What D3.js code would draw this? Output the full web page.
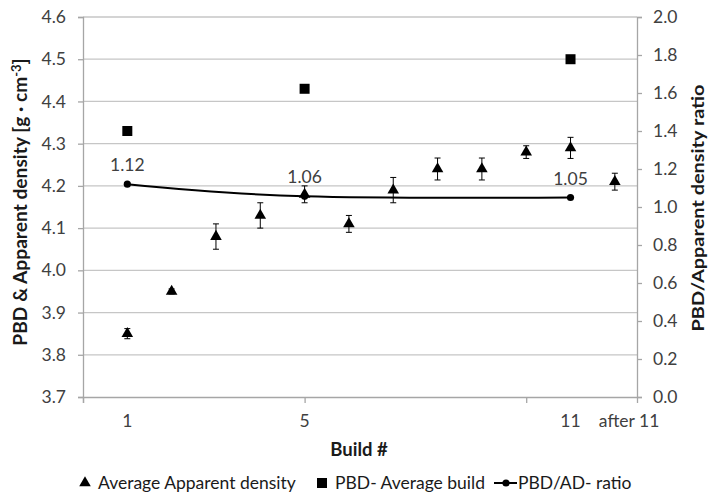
<!DOCTYPE html>
<html>
<head>
<meta charset="utf-8">
<script src="https://cdn.jsdelivr.net/npm/d3@7"></script>
<style>
  html, body { margin: 0; padding: 0; background: #fff; }
  svg { display: block; font-family: Lato, "Liberation Sans", sans-serif; }
</style>
</head>
<body>
<svg id="chart" width="708" height="493"></svg>
<script>
// ---- data ----
const buildX = [1, 2, 3, 4, 5, 6, 7, 8, 9, 10, 11, 12];
const apparentDensity = [3.85, 3.95, 4.08, 4.13, 4.18, 4.11, 4.19, 4.24, 4.24, 4.28, 4.29, 4.21];
const apparentErr = [0.012, 0.006, 0.03, 0.03, 0.02, 0.02, 0.03, 0.026, 0.026, 0.015, 0.025, 0.02];
const pbdX = [1, 5, 11];
const pbdValues = [4.33, 4.43, 4.50];
const ratioX = [1, 5, 11];
const ratioValues = [1.12, 1.056, 1.05];
const xTickLabels = ["1", "5", "11", "after 11"];
const xTickLabelPos = [1, 5, 11, 12];
const leftTicks = [3.7, 3.8, 3.9, 4.0, 4.1, 4.2, 4.3, 4.4, 4.5, 4.6];
const rightTicks = [0, 0.2, 0.4, 0.6, 0.8, 1.0, 1.2, 1.4, 1.6, 1.8, 2.0];
const xMajorTicks = [0, 5, 10];
const legendLabels = ["Average Apparent density", "PBD- Average build", "PBD/AD- ratio"];

// ---- layout ----
const L = 83, R = 637, T = 17, B = 397;
const svg = d3.select("#chart");
const x = d3.scaleLinear().domain([0, 12.5]).range([L, R]);
const yL = d3.scaleLinear().domain([3.7, 4.6]).range([B, T]);
const yR = d3.scaleLinear().domain([0, 2]).range([B, T]);

const gridColor = "#c6c6c6", axisColor = "#a6a6a6", tickText = "#404040";
const fs = 17.5;

// gridlines
svg.append("g").selectAll("line").data(leftTicks.slice(1)).join("line")
  .attr("x1", L).attr("x2", R)
  .attr("y1", d => yL(d)).attr("y2", d => yL(d))
  .attr("stroke", gridColor).attr("stroke-width", 1.3);

// left axis
const gL = svg.append("g").attr("transform", `translate(${L},0)`)
  .call(d3.axisLeft(yL).tickValues(leftTicks).tickFormat(d3.format(".1f")).tickSize(5).tickPadding(12));
gL.select(".domain").attr("stroke", axisColor).attr("stroke-width", 1.3);
gL.selectAll(".tick line").attr("stroke", axisColor).attr("stroke-width", 1.3);
gL.selectAll("text").attr("font-size", fs).attr("fill", tickText).attr("font-family", "Lato");

// right axis
const gR = svg.append("g").attr("transform", `translate(${R},0)`)
  .call(d3.axisRight(yR).tickValues(rightTicks).tickFormat(d3.format(".1f")).tickSize(5).tickPadding(11));
gR.select(".domain").attr("stroke", axisColor).attr("stroke-width", 1.3);
gR.selectAll(".tick line").attr("stroke", axisColor).attr("stroke-width", 1.3);
gR.selectAll("text").attr("font-size", fs).attr("fill", tickText).attr("font-family", "Lato");

// bottom axis (tick marks only)
const gB = svg.append("g").attr("transform", `translate(0,${B})`)
  .call(d3.axisBottom(x).tickValues(xMajorTicks).tickSize(6).tickFormat(""));
gB.select(".domain").attr("stroke", axisColor).attr("stroke-width", 1.3);
gB.selectAll(".tick line").attr("stroke", axisColor).attr("stroke-width", 1.3);

// x labels
svg.append("g").selectAll("text").data(xTickLabels).join("text")
  .attr("x", (d, i) => i === xTickLabels.length - 1 ? x(xTickLabelPos[i]) - 16 : x(xTickLabelPos[i]))
  .attr("y", 427)
  .attr("text-anchor", (d, i) => i === xTickLabels.length - 1 ? "start" : "middle")
  .attr("font-size", fs).attr("fill", tickText)
  .text(d => d);

// axis titles
svg.append("text")
  .attr("transform", "translate(27,202) rotate(-90)")
  .attr("text-anchor", "middle").attr("font-weight", "bold").attr("font-size", 19.2).attr("fill", "#1a1a1a")
  .call(t => {
    t.append("tspan").text("PBD & Apparent density [g · cm");
    t.append("tspan").attr("dy", -6).attr("font-size", 13).text("-3");
    t.append("tspan").attr("dy", 6).text("]");
  });
svg.append("text")
  .attr("transform", "translate(704,208) rotate(-90)")
  .attr("text-anchor", "middle").attr("font-weight", "bold").attr("font-size", 17.5).attr("fill", "#1a1a1a")
  .attr("textLength", 247).attr("lengthAdjust", "spacingAndGlyphs")
  .text("PBD/Apparent density ratio");
svg.append("text")
  .attr("x", 359).attr("y", 456)
  .attr("text-anchor", "middle").attr("font-weight", "bold").attr("font-size", 18.5).attr("fill", "#1a1a1a")
  .text("Build #");

// ratio line
const line = d3.line().x(d => x(d[0])).y(d => yR(d[1])).curve(d3.curveCardinal.tension(0));
const ratioPts = ratioX.map((v, i) => [v, ratioValues[i]]);
svg.append("path").datum(ratioPts).attr("d", line)
  .attr("fill", "none").attr("stroke", "#000").attr("stroke-width", 2);
svg.append("g").selectAll("circle").data(ratioPts).join("circle")
  .attr("cx", d => x(d[0])).attr("cy", d => yR(d[1])).attr("r", 3.6).attr("fill", "#000");
svg.append("g").selectAll("text").data(ratioPts).join("text")
  .attr("x", d => x(d[0])).attr("y", d => yR(d[1]) - 13)
  .attr("text-anchor", "middle").attr("font-size", fs).attr("fill", tickText)
  .text(d => d[1].toFixed(2));

// error bars
const eb = svg.append("g").attr("stroke", "#000").attr("stroke-width", 1);
buildX.forEach((bx, i) => {
  const cx = x(bx), y1 = yL(apparentDensity[i] + apparentErr[i]), y2 = yL(apparentDensity[i] - apparentErr[i]);
  eb.append("line").attr("x1", cx).attr("x2", cx).attr("y1", y1).attr("y2", y2);
  eb.append("line").attr("x1", cx - 3).attr("x2", cx + 3).attr("y1", y1).attr("y2", y1);
  eb.append("line").attr("x1", cx - 3).attr("x2", cx + 3).attr("y1", y2).attr("y2", y2);
});

// triangles
const tri = d3.symbol().type(d3.symbolTriangle).size(58);
svg.append("g").selectAll("path").data(buildX).join("path")
  .attr("d", tri)
  .attr("transform", (d, i) => `translate(${x(d)},${yL(apparentDensity[i])})`)
  .attr("fill", "#000");

// squares
svg.append("g").selectAll("rect").data(pbdX).join("rect")
  .attr("x", (d) => x(d) - 5).attr("y", (d, i) => yL(pbdValues[i]) - 5)
  .attr("width", 10).attr("height", 10).attr("fill", "#000");

// legend
const ly = 483;
const lg = svg.append("g").attr("font-size", fs).attr("fill", "#1a1a1a");
lg.append("path").attr("d", tri).attr("transform", `translate(85,${ly})`).attr("fill", "#000");
lg.append("text").attr("x", 98).attr("y", ly).attr("dy", "0.35em").text(legendLabels[0]);
lg.append("rect").attr("x", 317).attr("y", ly - 5).attr("width", 10).attr("height", 10).attr("fill", "#000");
lg.append("text").attr("x", 335).attr("y", ly).attr("dy", "0.35em").text(legendLabels[1]);
lg.append("line").attr("x1", 494).attr("x2", 517).attr("y1", ly).attr("y2", ly).attr("stroke", "#000").attr("stroke-width", 2);
lg.append("circle").attr("cx", 506).attr("cy", ly).attr("r", 3.6).attr("fill", "#000");
lg.append("text").attr("x", 518).attr("y", ly).attr("dy", "0.35em").text(legendLabels[2]);
</script>
</body>
</html>
